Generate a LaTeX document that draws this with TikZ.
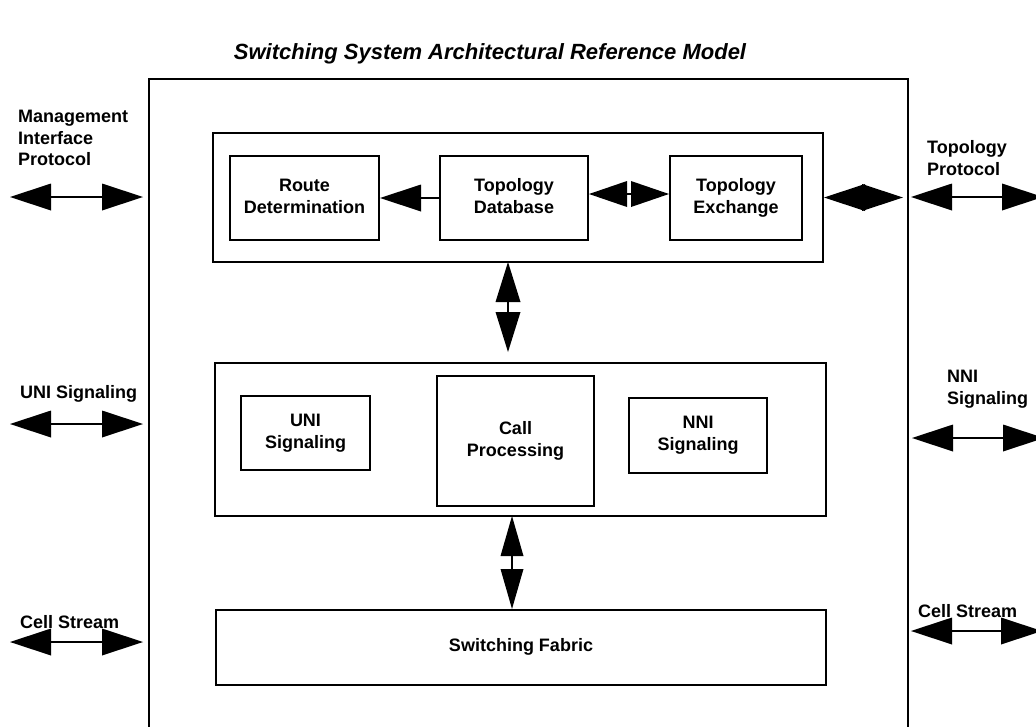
\documentclass[tikz,border=0pt]{standalone}
\usepackage{fontspec}
\setmainfont{Liberation Sans}
\usetikzlibrary{arrows.meta}
\tikzset{
  box/.style={draw, line width=2pt, inner sep=0pt, align=center,
    font=\fontsize{18}{22}\selectfont\bfseries},
  lbl/.style={inner sep=0pt, align=left, anchor=west,
    font=\fontsize{18}{21.5}\selectfont\bfseries},
  bighead/.tip={Triangle[length=41pt,width=27pt,line width=0pt]},
  dbl/.style={line width=2pt, {bighead}-{bighead}},
  sgl/.style={line width=2pt, -{bighead}},
  outer/.style={line width=2.5pt},
}
\begin{document}
\begin{tikzpicture}[x=1pt,y=-1pt]
\useasboundingbox (0,0) rectangle (1036,726);
% title
\node[inner sep=0pt, font=\fontsize{22}{26}\selectfont\bfseries\itshape] (title) at (490,54)
  {Switching System Architectural Reference Model};
% outer frame (open at the bottom)
\draw[outer] (149,727) -- (149,79) -- (908,79) -- (908,727);
% group boxes
\node[box, minimum width=610pt, minimum height=129pt] (tg) at (518,197.5) {};
\node[box, minimum width=611pt, minimum height=153pt] (mg) at (520.5,439.5) {};
\node[box, minimum width=610pt, minimum height=75pt] (sf) at (521,647.5) {Switching Fabric\strut};
% inner boxes
\node[box, minimum width=149pt, minimum height=84pt] (rd) at (304.5,198) {Route\strut\\Determination\strut};
\node[box, minimum width=148pt, minimum height=84pt] (tdb) at (514,198) {Topology\strut\\Database\strut};
\node[box, minimum width=132pt, minimum height=84pt] (tex) at (736,198) {Topology\strut\\Exchange\strut};
\node[box, minimum width=129pt, minimum height=74pt] (uni) at (305.5,433) {UNI\strut\\Signaling\strut};
\node[box, minimum width=157pt, minimum height=130pt] (cp) at (515.5,441) {Call\strut\\Processing\strut};
\node[box, minimum width=138pt, minimum height=75pt] (nni) at (698,435.5) {NNI\strut\\Signaling\strut};
% side labels
\node[lbl] (lmip) at (18,138) {Management\\Interface\\Protocol};
\node[lbl] (luni) at (20,394) {UNI Signaling};
\node[lbl] (lcsl) at (20,622) {Cell Stream};
\node[lbl] (ltp) at (927,158) {Topology\\Protocol};
\node[lbl] (lnni) at (947,389) {NNI\\Signaling};
\node[lbl] (lcsr) at (918,611) {Cell Stream};
% connector end points
\coordinate (mL) at (10,197);  \coordinate (mR) at (143,197);
\coordinate (uL) at (10,424);  \coordinate (uR) at (143,424);
\coordinate (cL) at (10,642);  \coordinate (cR) at (143,642);
\coordinate (tpL) at (911,197); \coordinate (tpR) at (1043,197);
\coordinate (nL) at (912,438);  \coordinate (nR) at (1044,438);
\coordinate (csL) at (911,631); \coordinate (csR) at (1042,631);
\coordinate (dR) at (903,197.5);
\coordinate (v1t) at (508,262); \coordinate (v1b) at (508,352);
\coordinate (v2t) at (512,516); \coordinate (v2b) at (512,609);
% connectors
\draw[dbl] (mL) -- (mR);
\draw[dbl] (uL) -- (uR);
\draw[dbl] (cL) -- (cR);
\draw[dbl] (tpL) -- (tpR);
\draw[dbl] (nL) -- (nR);
\draw[dbl] (csL) -- (csR);
\draw[dbl] (tg.east) -- (dR);
\draw[sgl] (tdb.west) -- (rd.east);
\draw[line width=2pt, {Triangle[length=38pt,width=26pt,line width=0pt]}-{Triangle[length=38pt,width=26pt,line width=0pt]}] ([yshift=4pt]tdb.east) -- ([yshift=4pt]tex.west);
\draw[line width=2pt, {Triangle[length=40pt,width=25pt,line width=0pt]}-{Triangle[length=40pt,width=25pt,line width=0pt]}] (v1t) -- (v1b);
\draw[line width=2pt, {Triangle[length=40pt,width=23pt,line width=0pt]}-{Triangle[length=40pt,width=23pt,line width=0pt]}] (v2t) -- (v2b);
\end{tikzpicture}
\end{document}
